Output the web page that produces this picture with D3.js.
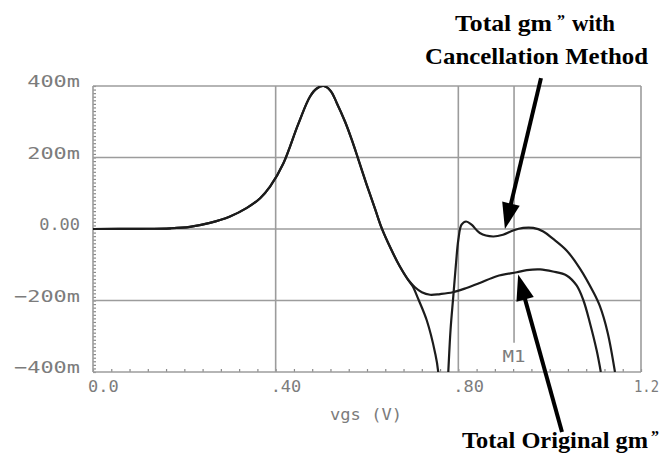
<!DOCTYPE html>
<html>
<head>
<meta charset="utf-8">
<title>Total gm'' vs vgs</title>
<script src="https://d3js.org/d3.v7.min.js"></script>
<style>
body { margin: 0; background: #fff; }
.grid { stroke: #9c9c9c; stroke-width: 1.6; fill: none; }
.lbl { fill: #7c7c7c; font-family: "DejaVu Sans Mono", monospace; font-size: 16px; }
.curve { fill: none; stroke: #1c1c1c; stroke-width: 2.2; }
.minor line { stroke: #8a8a8a; stroke-width: 1.2; }
.note { font-family: "Liberation Serif", "Times New Roman", serif; font-weight: bold; font-size: 24px; fill: #000; }
</style>
</head>
<body>
<div id="chart"></div>
<script>
// vgs in V, gm'' in m-units
var vgsShared = [0, 0.10, 0.17, 0.212, 0.256, 0.30, 0.337, 0.366, 0.388, 0.417, 0.449, 0.475, 0.49, 0.505, 0.52, 0.534, 0.552, 0.566, 0.581, 0.599, 0.618, 0.632, 0.651, 0.672, 0.69];
var gmShared  = [0, 0.5, 2, 6, 17, 35, 59, 86, 119, 184, 292, 370, 393, 400, 387, 352, 300, 252, 195, 125, 55, 3, -52, -105, -142];

var vgsOrig = vgsShared.concat([0.705, 0.72, 0.738, 0.76, 0.788, 0.818, 0.847, 0.884, 0.928, 0.95, 0.979, 1.007, 1.037, 1.059, 1.074, 1.088, 1.103, 1.112]);
var gmOrig  = gmShared.concat([-163, -177, -184, -182, -177, -165, -151, -132, -121, -115, -113, -119, -130, -158, -200, -262, -340, -400]);

var vgsCanc = vgsShared.concat([0.70, 0.713, 0.731, 0.749, 0.756, 0.767, 0.778, 0.783, 0.789, 0.795, 0.800, 0.807, 0.817, 0.829, 0.847, 0.876, 0.898, 0.92, 0.942, 0.964, 0.986, 1.007, 1.037, 1.066, 1.095, 1.11, 1.127, 1.143]);
var gmCanc  = gmShared.concat([-160, -198, -256, -346, -400, -700, -400, -281, -188, -95, -30, 12, 21, 12, -11, -21, -16, -4, 3, 3, -7, -27, -60, -110, -175, -216, -290, -400]);

var xTicks = [0, 0.4, 0.8, 1.2];
var xTickLabels = ["0.0", ".40", ".80", "1.2"];
var yTicks = [-400, -200, 0, 200, 400];
var yTickLabels = ["\u2212400m", "\u2212200m", "0.00", "200m", "400m"];
var marker = {name: "M1", vgs: 0.922};

// arrows: tip and tail in data units
var notes = [
  {tip: [0.902, 0], tail: [0.981, 422]},
  {tip: [0.931, -127], tail: [1.027, -568]}
];

var w = 663, h = 456;
var svg = d3.select("#chart").append("svg").attr("width", w).attr("height", h);

var x = d3.scaleLinear().domain([0, 1.2]).range([93, 641]);
var y = d3.scaleLinear().domain([-400, 400]).range([372, 86]);

svg.append("clipPath").attr("id", "plot")
  .append("rect").attr("x", x(0)).attr("y", y(400)).attr("width", x(1.2) - x(0)).attr("height", y(-400) - y(400));

// minor ticks
svg.append("g").attr("class", "minor").attr("transform", "translate(0," + y(-400) + ")")
  .call(d3.axisBottom(x).tickValues(d3.range(0, 1.2001, 0.04)).tickSize(-3).tickFormat(""))
  .select(".domain").remove();
svg.append("g").attr("class", "minor").attr("transform", "translate(" + x(0) + ",0)")
  .call(d3.axisLeft(y).tickValues(d3.range(-400, 400.1, 10)).tickSize(-3).tickFormat(""))
  .select(".domain").remove();

// grid
svg.selectAll("line.hgrid").data(yTicks).enter().append("line")
  .attr("class", "grid")
  .attr("x1", x(0)).attr("x2", x(1.2))
  .attr("y1", d => y(d)).attr("y2", d => y(d));
svg.selectAll("line.vgrid").data(xTicks).enter().append("line")
  .attr("class", "grid")
  .attr("x1", d => x(d)).attr("x2", d => x(d))
  .attr("y1", y(400)).attr("y2", y(-400));

// marker line
svg.append("line").attr("class", "grid")
  .attr("x1", x(marker.vgs)).attr("x2", x(marker.vgs))
  .attr("y1", y(400)).attr("y2", y(-318));
svg.append("text").attr("class", "lbl")
  .attr("x", x(marker.vgs)).attr("y", 362).attr("text-anchor", "middle")
  .attr("textLength", 23).attr("lengthAdjust", "spacingAndGlyphs")
  .text(marker.name);

// tick labels
function labelWidth(s) {
  var wd = s.length * 10.2;
  if (s.indexOf("m") >= 0) wd += 12;
  if (s.indexOf("\u2212") >= 0) wd += 3;
  return wd;
}
svg.selectAll("text.ylab").data(yTicks).enter().append("text")
  .attr("class", "lbl")
  .attr("x", 80).attr("y", d => y(d) + 1)
  .attr("text-anchor", "end")
  .attr("textLength", (d, i) => labelWidth(yTickLabels[i]))
  .attr("lengthAdjust", "spacingAndGlyphs")
  .text((d, i) => yTickLabels[i]);
// last label sits against the right edge, squeeze it a little
svg.selectAll("text.xlab").data(xTicks).enter().append("text")
  .attr("class", "lbl")
  .attr("x", (d, i) => i == xTicks.length - 1 ? x(d) - 7 : x(d) - 5).attr("y", 392)
  .attr("textLength", (d, i) => i == xTicks.length - 1 ? 25 : labelWidth(xTickLabels[i]))
  .attr("lengthAdjust", "spacingAndGlyphs")
  .text((d, i) => xTickLabels[i]);
svg.append("text").attr("class", "lbl")
  .attr("x", 366).attr("y", 420).attr("text-anchor", "middle")
  .attr("textLength", 72).attr("lengthAdjust", "spacingAndGlyphs")
  .text("vgs (V)");

// curves
var line = d3.line().x(d => x(d[0])).y(d => y(d[1])).curve(d3.curveCatmullRom.alpha(0.5));
[[vgsOrig, gmOrig], [vgsCanc, gmCanc]].forEach(function(s) {
  svg.append("path").attr("class", "curve").attr("clip-path", "url(#plot)")
    .attr("d", line(d3.zip(s[0], s[1])));
});

// arrows
notes.forEach(function(n) {
  var tx = x(n.tip[0]), ty = y(n.tip[1]), sx = x(n.tail[0]), sy = y(n.tail[1]);
  var len = Math.hypot(tx - sx, ty - sy), ux = (tx - sx) / len, uy = (ty - sy) / len;
  var L = 26, W = 9;
  var bx = tx - ux * L, by = ty - uy * L;
  svg.append("line").attr("x1", sx).attr("y1", sy).attr("x2", bx + ux * 4).attr("y2", by + uy * 4)
    .attr("stroke", "#000").attr("stroke-width", 4);
  svg.append("polygon").attr("fill", "#000")
    .attr("points", [[tx, ty], [bx - uy * W, by + ux * W], [bx + uy * W, by - ux * W]].join(" "));
});

// annotation text
function note(t, xx, yy, len, size) {
  var el = svg.append("text").attr("class", "note").attr("x", xx).attr("y", yy).text(t);
  if (len) el.attr("textLength", len).attr("lengthAdjust", "spacingAndGlyphs");
  if (size) el.style("font-size", size + "px");
}
note("Total gm", 455, 31, 97);
note("\u201D", 557, 26, 0, 16);
note("with", 572, 31, 43);
note("Cancellation Method", 425, 64, 223);
note("Total Original gm", 462, 448, 186);
note("\u201D", 651, 442, 0, 16);
</script>
</body>
</html>
